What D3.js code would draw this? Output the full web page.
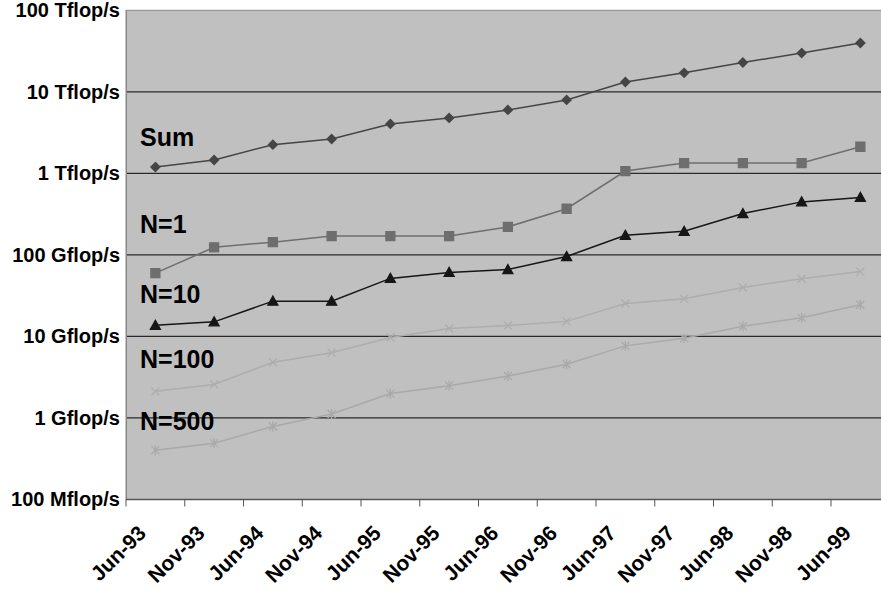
<!DOCTYPE html>
<html>
<head>
<meta charset="utf-8">
<script src="https://cdn.jsdelivr.net/npm/d3@7"></script>
<style>
  body { margin: 0; background: #fff; }
  svg { display: block; font-family: "Liberation Sans", Arial, sans-serif; font-weight: bold; }
</style>
</head>
<body>
<div id="root"></div>
<script>
// top500 performance development, values in Gflop/s
const dates = ["Jun-93", "Nov-93", "Jun-94", "Nov-94", "Jun-95", "Nov-95", "Jun-96",
               "Nov-96", "Jun-97", "Nov-97", "Jun-98", "Nov-98", "Jun-99"]
const sumVals = [1195, 1459, 2250, 2640, 4040, 4790, 6000, 7960, 13200, 17100, 22900, 29900, 39700]
const n1Vals = [59.7, 124, 143.4, 170, 170, 170, 220.4, 368.2, 1068, 1338, 1338, 1338, 2121]
const n10Vals = [13.7, 15.1, 27.1, 27.1, 51.5, 61, 66, 95.6, 174, 195, 322, 447, 507]
const n100Vals = [2.12, 2.58, 4.82, 6.3, 9.7, 12.5, 13.6, 15.3, 25.4, 29.0, 39.9, 51.1, 62.4]
const n500Vals = [0.403, 0.491, 0.787, 1.12, 1.99, 2.49, 3.27, 4.55, 7.66, 9.51, 13.3, 16.9, 24.5]
const tickVals = [0.1, 1, 10, 100, 1000, 10000, 100000]
const tickLabels = ["100 Mflop/s", "1 Gflop/s", "10 Gflop/s", "100 Gflop/s",
                    "1 Tflop/s", "10 Tflop/s", "100 Tflop/s"]
const seriesNames = ["Sum", "N=1", "N=10", "N=100", "N=500"]

const series = [
    {name: seriesNames[0], vals: sumVals, color: "#454545", marker: "diamond", labelY: 146},
    {name: seriesNames[1], vals: n1Vals, color: "#6e6e6e", marker: "square", labelY: 233},
    {name: seriesNames[2], vals: n10Vals, color: "#161616", marker: "triangle", labelY: 303},
    {name: seriesNames[3], vals: n100Vals, color: "#adadad", marker: "x", labelY: 368},
    {name: seriesNames[4], vals: n500Vals, color: "#a9a9a9", marker: "star", labelY: 430}
]

const W = 881, H = 591
const M = {left: 126, top: 10, bottom: 92}
const bandW = 58.75

const svg = d3.select("#root").append("svg").attr("width", W).attr("height", H)

const x = d3.scaleBand().domain(dates)
    .range([M.left, M.left + bandW * dates.length])
const y = d3.scaleLog().domain([0.1, 100000]).range([H - M.bottom + 0.5, M.top + 0.3])

// plot background
svg.append("rect")
    .attr("x", M.left).attr("y", y(100000))
    .attr("width", x.range()[1] - M.left).attr("height", y(0.1) - y(100000))
    .attr("fill", "#c0c0c0").attr("stroke", "#888").attr("stroke-width", 1)

// gridlines
svg.append("g").selectAll("line")
    .data(tickVals.slice(1, -1))
    .join("line")
    .attr("x1", M.left).attr("x2", x.range()[1])
    .attr("y1", d => y(d)).attr("y2", d => y(d))
    .attr("stroke", "#2a2a2a").attr("stroke-width", 1.2)

// y axis
const yAxis = d3.axisLeft(y).tickValues(tickVals)
    .tickFormat((d, i) => tickLabels[i]).tickSize(0).tickPadding(6)
const gy = svg.append("g").attr("transform", `translate(${M.left},0)`).call(yAxis)
gy.select(".domain").attr("stroke", "#888")
gy.selectAll("text").attr("font-size", 20).attr("fill", "#000")
    .attr("font-family", "Liberation Sans, Arial, sans-serif").attr("font-weight", "bold")

// x axis, ticks between categories
const gx = svg.append("g").attr("transform", `translate(0,${y(0.1)})`)
gx.append("line").attr("x1", M.left).attr("x2", x.range()[1])
    .attr("stroke", "#555").attr("stroke-width", 1.5)
gx.selectAll("line.tk").data(dates).join("line").attr("class", "tk")
    .attr("x1", d => x(d)).attr("x2", d => x(d)).attr("y1", 0).attr("y2", 7)
    .attr("stroke", "#555")
gx.selectAll("text").data(dates).join("text")
    .attr("transform", d => `translate(${x(d) + x.bandwidth() / 2 - 8},${35}) rotate(-45)`)
    .attr("text-anchor", "end")
    .attr("font-size", 21)
    .text(d => d)

// lines + markers
const line = d3.line().x((d, i) => x(dates[i]) + x.bandwidth() / 2).y(d => y(d))

const markerPath = {
    diamond: "M0,-4.5L4.5,0L0,4.5L-4.5,0Z",
    square: "M-4.5,-4.5h9v9h-9z",
    triangle: "M0,-5L5,4H-5Z",
    x: "M-4,-4L4,4M-4,4L4,-4",
    star: "M-4,-4L4,4M-4,4L4,-4M0,-5V5"
}

series.forEach(s => {
    const g = svg.append("g")
    g.append("path").datum(s.vals).attr("d", line)
        .attr("fill", "none").attr("stroke", s.color).attr("stroke-width", 1.5)
    g.selectAll("path.m").data(s.vals).join("path").attr("class", "m")
        .attr("transform", (d, i) => `translate(${x(dates[i]) + x.bandwidth() / 2},${y(d)})`)
        .attr("d", markerPath[s.marker])
        .attr("fill", s.marker === "x" || s.marker === "star" ? "none" : s.color)
        .attr("stroke", s.color).attr("stroke-width", 1.3)
    svg.append("text").attr("x", 140).attr("y", s.labelY)
        .attr("font-size", 25).attr("fill", "#000").text(s.name)
})
</script>
</body>
</html>
